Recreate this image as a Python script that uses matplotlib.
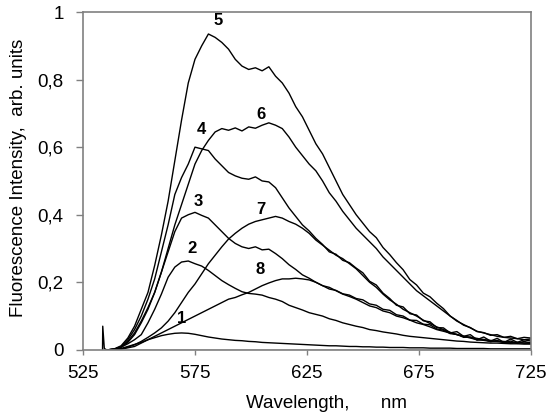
import numpy as np
import matplotlib
matplotlib.use('Agg')
import matplotlib.pyplot as plt
from matplotlib.ticker import FuncFormatter

plt.rcParams['font.family'] = ['Liberation Sans', 'DejaVu Sans']

# wavelength grid, nm
wl = np.arange(536, 726, 3)

# fluorescence spectra, arb. units
c1 = [0, 0.001, 0.004, 0.01, 0.016, 0.022, 0.03, 0.036, 0.042, 0.046, 0.049, 0.05, 0.049, 0.046, 0.042,
      0.038, 0.035, 0.032, 0.03, 0.028, 0.027, 0.025, 0.024, 0.022, 0.021, 0.02, 0.019, 0.018, 0.017, 0.016,
      0.015, 0.014, 0.013, 0.012, 0.012, 0.011, 0.01, 0.01, 0.009, 0.009, 0.008, 0.008, 0.007, 0.007, 0.007,
      0.006, 0.006, 0.006, 0.005, 0.005, 0.005, 0.005, 0.004, 0.004, 0.004, 0.004, 0.004, 0.003, 0.003,
      0.003, 0.003, 0.003, 0.003, 0.003]
c2 = [0, 0.002, 0.008, 0.018, 0.03, 0.045, 0.08, 0.12, 0.165, 0.215, 0.245, 0.26, 0.263, 0.255, 0.248,
      0.235, 0.22, 0.205, 0.193, 0.182, 0.172, 0.167, 0.165, 0.162, 0.155, 0.15, 0.143, 0.132, 0.125, 0.118,
      0.11, 0.105, 0.1, 0.092, 0.087, 0.08, 0.075, 0.07, 0.066, 0.06, 0.057, 0.053, 0.05, 0.047, 0.043,
      0.04, 0.038, 0.036, 0.034, 0.032, 0.03, 0.028, 0.026, 0.025, 0.023, 0.022, 0.021, 0.02, 0.02,
      0.019, 0.018, 0.018, 0.017, 0.017]
c3 = [0, 0.002, 0.008, 0.022, 0.045, 0.08, 0.12, 0.17, 0.23, 0.29, 0.35, 0.39, 0.40, 0.407, 0.398,
      0.39, 0.37, 0.35, 0.33, 0.315, 0.305, 0.30, 0.305, 0.296, 0.298, 0.285, 0.27, 0.252, 0.238, 0.222,
      0.212, 0.2, 0.19, 0.18, 0.176, 0.166, 0.162, 0.152, 0.148, 0.136, 0.132, 0.12, 0.117, 0.104, 0.1,
      0.088, 0.087, 0.076, 0.074, 0.062, 0.058, 0.048, 0.046, 0.037, 0.038, 0.029, 0.031, 0.024, 0.028,
      0.021, 0.026, 0.019, 0.025, 0.02]
c4 = [0, 0.002, 0.01, 0.03, 0.06, 0.10, 0.15, 0.21, 0.29, 0.37, 0.46, 0.51, 0.55, 0.60, 0.595,
      0.59, 0.565, 0.545, 0.525, 0.515, 0.508, 0.505, 0.512, 0.50, 0.497, 0.48, 0.45, 0.42, 0.395, 0.37,
      0.352, 0.33, 0.312, 0.29, 0.283, 0.265, 0.258, 0.242, 0.228, 0.203, 0.192, 0.168, 0.152, 0.132, 0.127,
      0.107, 0.103, 0.086, 0.083, 0.066, 0.065, 0.05, 0.054, 0.04, 0.045, 0.03, 0.038, 0.026, 0.034,
      0.022, 0.032, 0.022, 0.03, 0.026]
c5 = [0, 0.003, 0.012, 0.035, 0.07, 0.12, 0.17, 0.25, 0.34, 0.44, 0.56, 0.68, 0.79, 0.86, 0.90,
      0.935, 0.925, 0.91, 0.89, 0.86, 0.84, 0.83, 0.835, 0.826, 0.838, 0.81, 0.79, 0.76, 0.72, 0.69,
      0.65, 0.61, 0.58, 0.54, 0.50, 0.46, 0.43, 0.40, 0.375, 0.35, 0.332, 0.303, 0.282, 0.258, 0.237,
      0.208, 0.192, 0.168, 0.157, 0.138, 0.122, 0.10, 0.087, 0.073, 0.066, 0.054, 0.051, 0.043, 0.045,
      0.037, 0.04, 0.033, 0.037, 0.035]
c6 = [0, 0.002, 0.008, 0.025, 0.05, 0.085, 0.125, 0.17, 0.23, 0.30, 0.37, 0.43, 0.49, 0.55, 0.59,
      0.62, 0.645, 0.655, 0.65, 0.657, 0.648, 0.66, 0.656, 0.665, 0.672, 0.665, 0.655, 0.63, 0.60, 0.575,
      0.55, 0.53, 0.50, 0.465, 0.44, 0.41, 0.385, 0.36, 0.34, 0.32, 0.30, 0.275, 0.255, 0.235, 0.215,
      0.195, 0.175, 0.16, 0.145, 0.13, 0.115, 0.10, 0.085, 0.075, 0.065, 0.055, 0.05, 0.045, 0.04,
      0.037, 0.035, 0.033, 0.03, 0.032]
c7 = [0, 0, 0.003, 0.008, 0.015, 0.025, 0.037, 0.05, 0.065, 0.085, 0.11, 0.14, 0.17, 0.195, 0.225,
      0.255, 0.28, 0.305, 0.328, 0.345, 0.36, 0.372, 0.38, 0.385, 0.39, 0.395, 0.39, 0.38, 0.372, 0.36,
      0.345, 0.325, 0.31, 0.295, 0.28, 0.27, 0.255, 0.24, 0.22, 0.2, 0.185, 0.165, 0.148, 0.135, 0.12,
      0.11, 0.1, 0.088, 0.078, 0.068, 0.06, 0.052, 0.045, 0.04, 0.035, 0.03, 0.028, 0.025, 0.025,
      0.022, 0.02, 0.022, 0.02, 0.02]
c8 = [0, 0, 0.002, 0.006, 0.01, 0.02, 0.03, 0.04, 0.05, 0.06, 0.07, 0.08, 0.09, 0.10, 0.11,
      0.12, 0.13, 0.14, 0.15, 0.155, 0.163, 0.17, 0.18, 0.19, 0.198, 0.205, 0.21, 0.21, 0.212, 0.21,
      0.207, 0.2, 0.19, 0.185, 0.175, 0.165, 0.158, 0.15, 0.14, 0.13, 0.125, 0.115, 0.11, 0.1, 0.095,
      0.088, 0.08, 0.075, 0.068, 0.06, 0.055, 0.05, 0.045, 0.04, 0.037, 0.034, 0.03, 0.028, 0.025,
      0.025, 0.022, 0.022, 0.02, 0.02]
curves = [c1, c2, c3, c4, c5, c6, c7, c8]

# scattered excitation spike at the start of the record
spike_wl = [533.7, 533.8, 534.5, 535.5, 536]
spike_val = [0.0, 0.07, 0.004, 0.0, 0.0]

# curve numbers and where they sit
label_text = ['1', '2', '3', '4', '5', '6', '7', '8']
label_wl = [569, 573.5, 576.5, 578, 585.5, 604.5, 604.5, 604]
label_val = [0.094, 0.301, 0.439, 0.651, 0.975, 0.698, 0.414, 0.237]

fig = plt.figure(figsize=(5.5, 4.15), dpi=100)
ax = fig.add_axes([0.151, 0.157, 0.814, 0.814])

for c in curves:
    ax.plot(wl, c, color='black', lw=1.0)
ax.plot(spike_wl, spike_val, color='black', lw=1.0)
ax.plot([535, 725], [0.001, 0.001], color='black', lw=1.0)

for t, x, y in zip(label_text, label_wl, label_val):
    ax.text(x, y, t, fontsize=12, fontweight='bold', ha='center', va='center')

ax.set_xlim(525, 725)
ax.set_ylim(0, 1)
ax.set_xticks([525, 575, 625, 675, 725])
ax.set_yticks([0, 0.2, 0.4, 0.6, 0.8, 1.0])
ax.yaxis.set_major_formatter(FuncFormatter(lambda v, p: ('%g' % round(v, 1)).replace('.', ',')))

for s in ax.spines.values():
    s.set_color('#808080')
    s.set_linewidth(1.2)
ax.tick_params(direction='out', width=1.0, color='#808080', labelsize=13.5)
ax.tick_params(axis='y', length=5, pad=9)
ax.tick_params(axis='x', length=3.6, pad=7)

ax.set_xlabel('Wavelength,      nm', fontsize=13.5, va='baseline')
ax.xaxis.set_label_coords(0.543, -0.172)
ax.set_ylabel('Fluorescence Intensity,  arb. units', fontsize=13.5, va='center')
ax.yaxis.set_label_coords(-0.145, 0.51)

fig.savefig('out.png', dpi=100)
